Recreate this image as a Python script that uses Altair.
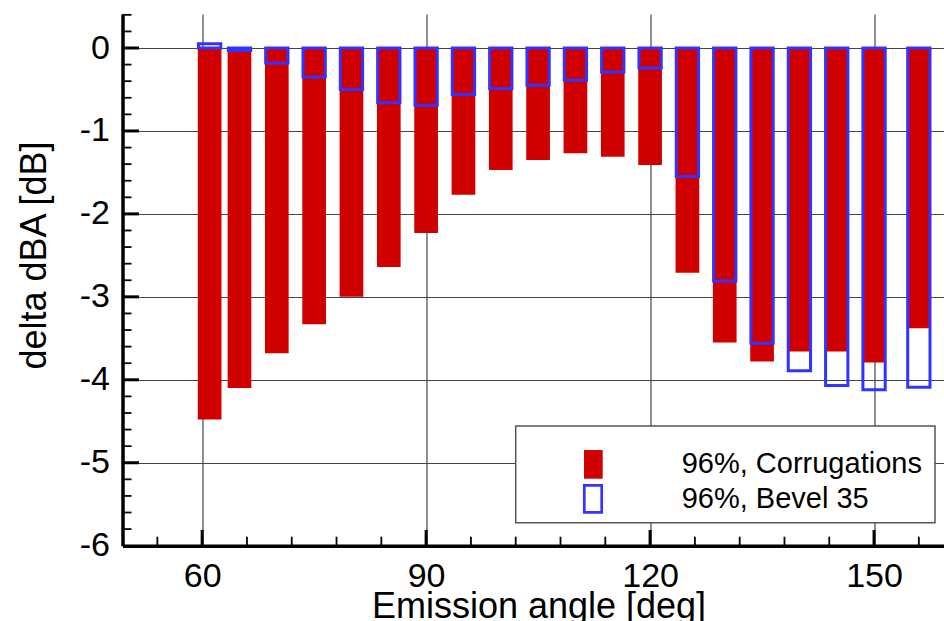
import altair as alt
import pandas as pd

# ---- data ----
angles = [61, 65, 70, 75, 80, 85, 90, 95, 100, 105, 110, 115, 120, 125, 130, 135, 140, 145, 150, 156]
corrugations = [-4.48, -4.10, -3.68, -3.33, -3.00, -2.64, -2.23, -1.77, -1.47, -1.35,
                -1.27, -1.31, -1.41, -2.71, -3.55, -3.78, -3.66, -3.66, -3.79, -3.38]
bevel = [0.05, -0.03, -0.18, -0.35, -0.50, -0.66, -0.69, -0.56, -0.49, -0.45,
         -0.39, -0.29, -0.24, -1.55, -2.81, -3.56, -3.89, -4.07, -4.12, -4.09]
legend_labels = ["96%, Corrugations", "96%, Bevel 35"]

x_major = [60, 90, 120, 150]
x_minor = [54, 66, 72, 78, 84, 96, 102, 108, 114, 126, 132, 138, 144, 156]
y_major = [0, -1, -2, -3, -4, -5, -6]
y_minor = [round(-6 + 0.2 * i, 1) for i in range(33) if i % 5 != 0]

RED = "#d00000"
BLUE = "#3333ff"
FONT = "Liberation Sans"
W, H = 821.5, 531.7

df = pd.DataFrame({"angle": angles, "corr": corrugations, "bevel": bevel})

xscale = alt.Scale(domain=[50, 158.7], nice=False, zero=False)
yscale = alt.Scale(domain=[-6, 0.41], nice=False, zero=False)

x_axis = alt.Axis(values=x_major, ticks=False, grid=True, gridColor="#444", gridWidth=1.2,
                  domainColor="black", domainWidth=3.5, labelFontSize=34, labelFont=FONT,
                  labelColor="black", labelPadding=14, labelExpr="toString(datum.value)",
                  title="Emission angle [deg]",
                  titleFont=FONT, titleFontSize=36, titleFontWeight="normal", titleColor="black",
                  titleX=416, titleY=72, titleBaseline="alphabetic", titleAlign="center")
y_axis = alt.Axis(values=y_major, ticks=False, grid=True, gridColor="#444", gridWidth=1.2,
                  domainColor="black", domainWidth=3.5, labelFontSize=34, labelFont=FONT,
                  labelColor="black", labelPadding=13, labelExpr="toString(datum.value)",
                  title="delta dBA [dB]",
                  titleFont=FONT, titleFontSize=36, titleFontWeight="normal", titleColor="black",
                  titleAngle=270, titleX=-77.5, titleY=241, titleBaseline="alphabetic",
                  titleAlign="center")


def X(field):
    return alt.X(field, scale=xscale, axis=x_axis, title="Emission angle [deg]")


def Y(field):
    return alt.Y(field, scale=yscale, axis=y_axis, title="delta dBA [dB]")


red = alt.Chart(df).mark_bar(size=23.7, color=RED).encode(
    x=X("angle:Q"), y=Y("corr:Q"), y2=alt.datum(0))
blue = alt.Chart(df).mark_bar(size=22.3, fillOpacity=0, stroke=BLUE, strokeWidth=3).encode(
    x=X("angle:Q"), y=Y("bevel:Q"), y2=alt.datum(0))

xmaj = alt.Chart(pd.DataFrame({"t": x_major})).mark_rule(color="black", strokeWidth=3).encode(
    x=X("t:Q"), y=alt.value(H), y2=alt.value(H - 15.7))
xmin = alt.Chart(pd.DataFrame({"t": x_minor})).mark_rule(color="black", strokeWidth=1.8).encode(
    x=X("t:Q"), y=alt.value(H), y2=alt.value(H - 9))
ymaj = alt.Chart(pd.DataFrame({"t": y_major[:-1]})).mark_rule(color="black", strokeWidth=3).encode(
    y=Y("t:Q"), x=alt.value(0), x2=alt.value(16.5))
ymin = alt.Chart(pd.DataFrame({"t": y_minor})).mark_rule(color="black", strokeWidth=1.8).encode(
    y=Y("t:Q"), x=alt.value(0), x2=alt.value(9))

one = pd.DataFrame({"k": [0]})
box = alt.Chart(one).mark_rect(fill="white", stroke="#555", strokeWidth=1.5).encode(
    x=alt.value(393.2), x2=alt.value(812.5), y=alt.value(412), y2=alt.value(508.7))
sw_red = alt.Chart(one).mark_rect(fill=RED).encode(
    x=alt.value(461.5), x2=alt.value(480.2), y=alt.value(436), y2=alt.value(464.7))
sw_blue = alt.Chart(one).mark_rect(fill="white", stroke=BLUE, strokeWidth=2.7).encode(
    x=alt.value(461.8), x2=alt.value(479.2), y=alt.value(471.3), y2=alt.value(498.4))
t1 = alt.Chart(one).mark_text(align="left", baseline="alphabetic", fontSize=29, font=FONT,
                              color="black").encode(
    x=alt.value(559.2), y=alt.value(459.3), text=alt.value(legend_labels[0]))
t2 = alt.Chart(one).mark_text(align="left", baseline="alphabetic", fontSize=29, font=FONT,
                              color="black").encode(
    x=alt.value(559.2), y=alt.value(493.7), text=alt.value(legend_labels[1]))

chart = alt.layer(red, blue, xmaj, xmin, ymaj, ymin, box, sw_red, sw_blue, t1, t2).properties(
    width=W, height=H,
    padding={"left": 122.5, "top": 14, "right": 0, "bottom": 75.3},
    autosize=alt.AutoSizeParams(type="none"),
    background="white",
).configure_view(stroke=None)

chart.save("out.html", embed_options={"renderer": "svg", "actions": False})
